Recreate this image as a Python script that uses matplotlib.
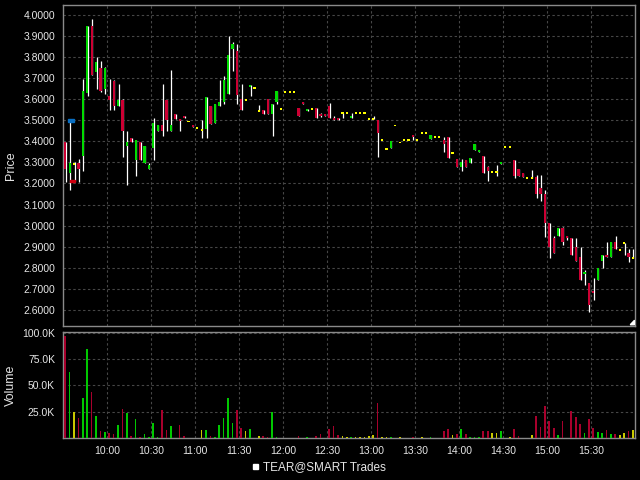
import matplotlib.pyplot as plt
import numpy as np
import pandas as pd
from matplotlib.patches import Rectangle, Polygon

plt.rcParams['font.family'] = ['Liberation Sans', 'DejaVu Sans']

# 3 minute bars, 09:30 - 16:00
bar_times = pd.date_range('2020-01-01 09:30', periods=130, freq='3min')

opens = [3.397, 3.249, 3.294, 3.298, 3.330, 3.630, 3.948, 3.730, 3.748, 3.651,
         3.617, 3.687, 3.567, 3.595, 3.378, 3.417, 3.310, 3.397, 3.298, 3.267,
         3.370, 3.449, 3.478, 3.598, 3.449, 3.529, 3.508, 3.521, 3.495, 3.479,
         3.465, 3.456, 3.459, 3.568, 3.490, 3.570, 3.590, 3.627, 3.838, 3.830,
         3.600, 3.597, 3.660, 3.654, 3.546, 3.549, 3.600, 3.530, 3.590, 3.556,
         3.635, 3.635, 3.635, 3.560, 3.590, 3.546, 3.556, 3.560, 3.530, 3.530,
         3.570, 3.511, 3.511, 3.535, 3.535, 3.510, 3.535, 3.535, 3.535, 3.505,
         3.505, 3.500, 3.405, 3.365, 3.370, 3.476, 3.395, 3.405, 3.405, 3.430,
         3.405, 3.440, 3.440, 3.410, 3.422, 3.422, 3.408, 3.419, 3.343, 3.317,
         3.278, 3.310, 3.297, 3.357, 3.348, 3.329, 3.278, 3.254, 3.254, 3.293,
         3.373, 3.373, 3.310, 3.268, 3.248, 3.226, 3.226, 3.230, 3.178, 3.150,
         3.010, 2.940, 2.949, 2.990, 2.948, 2.940, 2.900, 2.848, 2.770, 2.729,
         2.690, 2.741, 2.830, 2.860, 2.850, 2.920, 2.885, 2.915, 2.870, 2.845]
highs = [3.397, 3.498, 3.300, 3.317, 3.698, 3.949, 3.981, 3.800, 3.781, 3.754,
         3.698, 3.690, 3.671, 3.603, 3.452, 3.417, 3.408, 3.397, 3.378, 3.298,
         3.510, 3.478, 3.671, 3.598, 3.738, 3.529, 3.508, 3.521, 3.495, 3.479,
         3.465, 3.500, 3.610, 3.568, 3.579, 3.692, 3.711, 3.900, 3.873, 3.863,
         3.673, 3.597, 3.670, 3.654, 3.573, 3.549, 3.600, 3.578, 3.640, 3.556,
         3.635, 3.635, 3.635, 3.560, 3.590, 3.555, 3.556, 3.560, 3.535, 3.530,
         3.583, 3.520, 3.511, 3.535, 3.535, 3.535, 3.535, 3.535, 3.535, 3.505,
         3.520, 3.500, 3.405, 3.365, 3.400, 3.476, 3.395, 3.405, 3.405, 3.430,
         3.405, 3.440, 3.440, 3.430, 3.422, 3.422, 3.419, 3.419, 3.343, 3.317,
         3.317, 3.310, 3.319, 3.389, 3.357, 3.329, 3.281, 3.257, 3.290, 3.300,
         3.373, 3.373, 3.310, 3.268, 3.248, 3.226, 3.263, 3.240, 3.240, 3.171,
         3.010, 2.948, 2.990, 2.994, 2.948, 2.940, 2.940, 2.900, 2.790, 2.729,
         2.749, 2.800, 2.860, 2.920, 2.920, 2.950, 2.885, 2.915, 2.890, 2.890]
lows = [3.206, 3.167, 3.210, 3.206, 3.259, 3.614, 3.717, 3.648, 3.635, 3.627,
        3.548, 3.548, 3.567, 3.325, 3.195, 3.398, 3.235, 3.310, 3.298, 3.267,
        3.314, 3.449, 3.425, 3.449, 3.449, 3.508, 3.449, 3.511, 3.495, 3.470,
        3.465, 3.417, 3.417, 3.481, 3.490, 3.570, 3.579, 3.627, 3.736, 3.578,
        3.549, 3.597, 3.616, 3.654, 3.546, 3.530, 3.530, 3.425, 3.579, 3.556,
        3.635, 3.635, 3.635, 3.520, 3.580, 3.546, 3.556, 3.510, 3.515, 3.520,
        3.510, 3.500, 3.500, 3.513, 3.535, 3.510, 3.535, 3.535, 3.535, 3.505,
        3.505, 3.327, 3.405, 3.365, 3.370, 3.476, 3.395, 3.405, 3.405, 3.405,
        3.405, 3.440, 3.440, 3.410, 3.422, 3.422, 3.348, 3.319, 3.343, 3.278,
        3.259, 3.278, 3.297, 3.357, 3.348, 3.250, 3.214, 3.254, 3.235, 3.293,
        3.373, 3.373, 3.225, 3.238, 3.229, 3.226, 3.226, 3.129, 3.117, 2.946,
        2.846, 2.870, 2.949, 2.908, 2.930, 2.860, 2.830, 2.743, 2.716, 2.589,
        2.644, 2.741, 2.800, 2.850, 2.850, 2.890, 2.885, 2.860, 2.827, 2.845]
closes = [3.270, 3.297, 3.294, 3.270, 3.638, 3.949, 3.717, 3.778, 3.641, 3.749,
          3.598, 3.568, 3.598, 3.449, 3.398, 3.398, 3.408, 3.310, 3.378, 3.286,
          3.487, 3.478, 3.449, 3.500, 3.478, 3.508, 3.500, 3.511, 3.495, 3.470,
          3.465, 3.456, 3.610, 3.481, 3.579, 3.590, 3.690, 3.811, 3.862, 3.620,
          3.549, 3.597, 3.670, 3.654, 3.546, 3.530, 3.530, 3.578, 3.640, 3.556,
          3.635, 3.635, 3.635, 3.520, 3.580, 3.555, 3.556, 3.510, 3.520, 3.520,
          3.510, 3.500, 3.500, 3.535, 3.535, 3.520, 3.535, 3.535, 3.535, 3.505,
          3.505, 3.441, 3.405, 3.365, 3.400, 3.476, 3.395, 3.405, 3.405, 3.420,
          3.405, 3.440, 3.440, 3.430, 3.422, 3.422, 3.390, 3.319, 3.343, 3.278,
          3.300, 3.278, 3.319, 3.389, 3.357, 3.250, 3.260, 3.254, 3.254, 3.300,
          3.373, 3.373, 3.238, 3.238, 3.229, 3.226, 3.226, 3.152, 3.152, 3.013,
          2.900, 2.870, 2.990, 2.920, 2.940, 2.860, 2.830, 2.743, 2.780, 2.622,
          2.680, 2.800, 2.860, 2.850, 2.920, 2.890, 2.885, 2.915, 2.850, 2.845]
# volume in thousands
volume_k = [96.8, 62.7, 24.4, 18.7, 38.0, 84.2, 43.7, 20.9, 6.6, 6.0,
            4.7, 3.5, 12.3, 27.5, 23.7, 1.9, 18.0, 1.3, 3.8, 1.0,
            13.9, 1.0, 26.9, 7.9, 11.4, 0.3, 12.3, 1.9, 0.3, 0.3,
            0.3, 7.3, 7.9, 1.9, 1.3, 12.0, 19.0, 38.0, 13.9, 26.6,
            9.5, 6.3, 8.5, 0.3, 1.6, 1.6, 1.0, 24.4, 1.0, 0.2,
            0.2, 0.2, 0.2, 1.6, 0.3, 1.0, 0.3, 1.9, 3.8, 0.3,
            8.5, 11.4, 2.5, 1.6, 1.0, 0.6, 0.6, 0.6, 0.6, 1.6,
            3.2, 32.9, 0.6, 1.3, 0.6, 0.3, 0.6, 0.2, 0.2, 1.0,
            0.2, 1.0, 0.2, 1.0, 0.2, 0.2, 6.6, 8.9, 2.5, 3.5,
            8.2, 3.8, 1.0, 1.0, 0.6, 6.6, 6.3, 4.4, 4.4, 6.6,
            0.3, 0.6, 8.2, 1.9, 0.3, 0.3, 2.5, 20.9, 10.4, 30.4,
            16.1, 9.5, 2.5, 16.1, 0.3, 25.6, 19.9, 13.0, 4.7, 18.0,
            9.8, 5.7, 4.7, 7.9, 3.8, 4.1, 2.5, 4.7, 6.6, 7.3]

price_ticks = [2.6, 2.7, 2.8, 2.9, 3.0, 3.1, 3.2, 3.3, 3.4, 3.5, 3.6, 3.7, 3.8, 3.9, 4.0]
vol_ticks = [25, 50, 75, 100]
time_labels = ['10:00', '10:30', '11:00', '11:30', '12:00', '12:30',
               '13:00', '13:30', '14:00', '14:30', '15:00', '15:30']

# opening marks (blue / red) near the first bars
marks = [(3.2, 7.2, 3.500, '#0a6fc2'), (4.6, 8.2, 3.212, '#d00010')]

GREEN, RED, YELLOW = '#00dc00', '#cc0033', '#ffff00'
TXT = '#e6e6e6'
GRID = '#464646'
BORDER = '#8a8a8a'

o = np.array(opens); h = np.array(highs); l = np.array(lows); c = np.array(closes)
mins = (bar_times - bar_times[0]).total_seconds().values / 60.0
xc = mins + 1.3
cols = [GREEN if cc > oo else (RED if cc < oo else YELLOW) for oo, cc in zip(o, c)]
vcols = [{GREEN: '#00c800', RED: '#a8002c', YELLOW: '#c8c800'}[k] for k in cols]

fig = plt.figure(figsize=(6.4, 4.8), dpi=100, facecolor='black')
ax = fig.add_axes([0.0989, 0.3208, 0.8939, 0.6681])
axv = fig.add_axes([0.0989, 0.0875, 0.8939, 0.2215])

for a in (ax, axv):
    a.set_facecolor('black')
    for s in a.spines.values():
        s.set_color(BORDER)
        s.set_linewidth(1.0)
    a.set_xlim(0, 390)
    a.set_xticks(np.arange(30, 390, 30))
    a.grid(True, color=GRID, linestyle=(0, (2.2, 2.2)), linewidth=0.8)
    a.set_axisbelow(True)
    a.tick_params(colors=TXT, length=0, labelsize=7.5, pad=6)

# candles
ax.vlines(xc + 0.4, l, h, color='white', linewidth=0.9, zorder=2)
bottoms = np.minimum(o, c)
heights = np.abs(c - o)
bh = np.where(heights < 0.009, 0.009, heights)
bb = np.where(heights < 0.009, (o + c) / 2 - 0.0045, bottoms)
ax.bar(xc, bh, bottom=bb, width=1.5, color=cols, linewidth=0, zorder=3)
for x0, x1, y, col in marks:
    ax.add_patch(Rectangle((x0, y - 0.006), x1 - x0, 0.012, color=col, zorder=4))

ax.set_ylim(2.522, 4.0476)
ax.set_yticks(price_ticks)
ax.set_yticklabels(['%.4f' % v for v in price_ticks])
ax.set_xticklabels([])
ax.set_ylabel('Price', color=TXT, fontsize=9)
ax.yaxis.set_label_coords(-0.081, 0.5)
ax.add_patch(Polygon([(0.9985, 0.004), (0.9985, 0.018), (0.991, 0.004)],
                     closed=True, transform=ax.transAxes, color='white', zorder=5))

# volume
axv.bar(xc, volume_k, width=1.15, color=vcols, linewidth=0, zorder=3)
axv.set_ylim(0, 100.95)
axv.set_yticks(vol_ticks)
axv.set_yticklabels(['%.1fK' % v for v in vol_ticks])
axv.set_xticklabels(time_labels)
axv.set_ylabel('Volume', color=TXT, fontsize=9)
axv.yaxis.set_label_coords(-0.081, 0.5)

fig.patches.append(Rectangle((253.3 / 640, 1 - 469 / 480), 4.4 / 640, 4.7 / 480,
                             transform=fig.transFigure, color='white'))
fig.text(263 / 640, 1 - 467.5 / 480, 'TEAR@SMART Trades', color=TXT, fontsize=8.5,
         va='center', ha='left')

plt.savefig('out.png', dpi=100, facecolor='black')
